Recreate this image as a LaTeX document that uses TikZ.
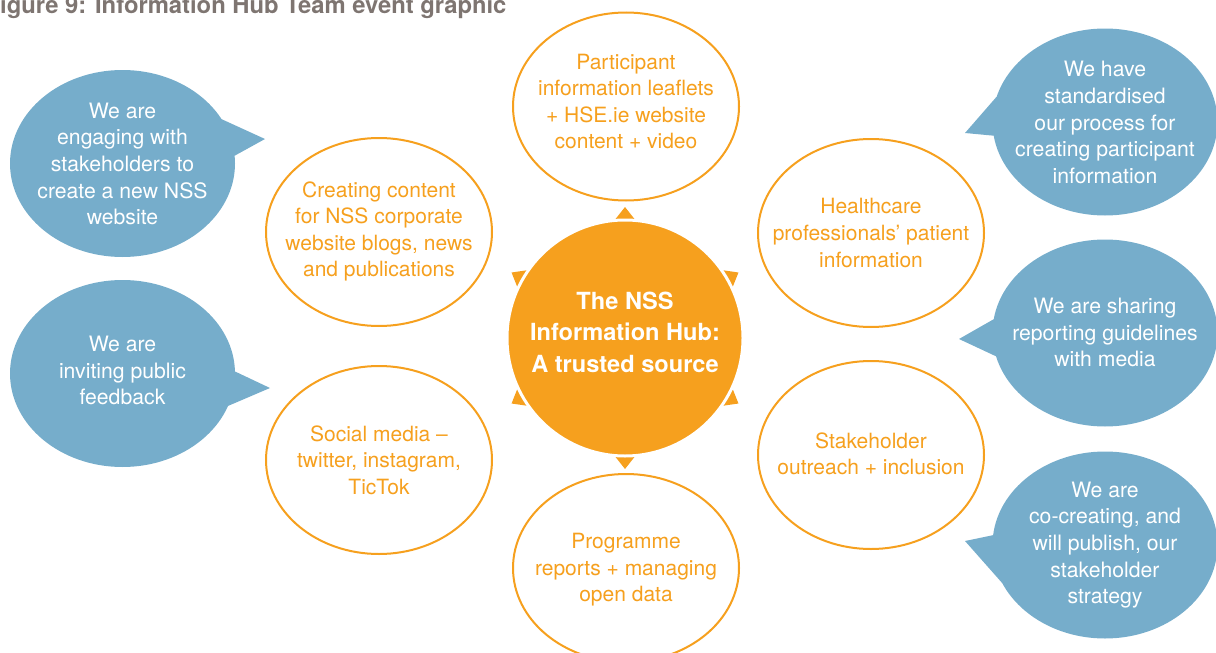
\documentclass[tikz,border=0pt]{standalone}
\usepackage{fontspec}
\setmainfont{TeX Gyre Heros}
\usetikzlibrary{shapes.geometric}
\definecolor{hubOrange}{HTML}{F6A01E}
\definecolor{bubbleBlue}{HTML}{76ADCB}
\definecolor{titleGray}{HTML}{7E7571}

\begin{document}
\begin{tikzpicture}[x=1pt,y=-1pt,
  topic/.style={ellipse, draw=hubOrange, line width=2pt, fill=white,
    minimum width=226pt, minimum height=188pt, inner sep=0pt},
  topictext/.style={text=hubOrange, align=center, inner sep=0pt,
    font=\fontsize{21}{26.6}\selectfont},
  bubble/.style={ellipse, fill=bubbleBlue, minimum width=225pt,
    minimum height=187pt, inner sep=0pt},
  bubbletext/.style={text=white, align=center, inner sep=0pt,
    font=\fontsize{21.2}{26.6}\selectfont},
  pointer/.style={fill=bubbleBlue},
  hub/.style={circle, fill=hubOrange, draw=white, line width=3pt,
    minimum size=236pt, inner sep=0pt},
  hubtext/.style={text=white, align=center, inner sep=0pt,
    font=\bfseries\fontsize{23.6}{31.5}\selectfont},
  marker/.style={fill=hubOrange}
]
\useasboundingbox (0,0) rectangle (1216,653);
\clip (0,0) rectangle (1216,653);

% caption
\node[anchor=base west, text=titleGray, inner sep=0pt,
  font=\bfseries\fontsize{23.8}{28}\selectfont] (title) at (-14.5,13)
  {Figure 9: Information Hub Team event graphic};

% blue speech bubbles with their pointers
\node[bubble] (b1) at (122.5,163.5) {};
\coordinate (p1) at (265,139);
\fill[pointer] (b1.center) -- (b1.24.5) -- (p1) -- (b1.4.3) -- cycle;
\node[bubbletext] (b1t) at (122.5,164)
  {We are\\engaging with\\stakeholders to\\create a new NSS\\website};

\node[bubble] (b2) at (122.5,373.5) {};
\coordinate (p2) at (270,388);
\fill[pointer] (b2.center) -- (b2.1.8) -- (p2) -- (b2.-17.8) -- cycle;
\node[bubbletext] (b2t) at (122.5,370.5)
  {We are\\inviting public\\feedback};

\node[bubble] (b3) at (1105,122) {};
\coordinate (p3) at (965,133);
\fill[pointer] (b3.center) -- (b3.167.7) -- (p3) -- (b3.187.6) -- cycle;
\node[bubbletext] (b3t) at (1105,122.5)
  {We have\\standardised\\our process for\\creating participant\\information};

\node[bubble] (b4) at (1105,333) {};
\coordinate (p4) at (959,339);
\fill[pointer] (b4.center) -- (b4.173.3) -- (p4) -- (b4.192) -- cycle;
\node[bubbletext] (b4t) at (1105,332.5)
  {We are sharing\\reporting guidelines\\with media};

\node[bubble] (b5) at (1105,545) {};
\coordinate (p5) at (965,541);
\fill[pointer] (b5.center) -- (b5.175.9) -- (p5) -- (b5.200.2) -- cycle;
\node[bubbletext] (b5t) at (1105,545)
  {We are\\co-creating, and\\will publish, our\\stakeholder\\strategy};

% orange topic ellipses
\node[topic] (top) at (626,106.5) {};
\node[topictext] (topt) at (626,101.5)
  {Participant\\information leaflets\\+ HSE.ie website\\content + video};

\node[topic] (ul) at (379,232) {};
\node[topictext] (ult) at (379,231.5)
  {Creating content\\for NSS corporate\\website blogs, news\\and publications};

\node[topic] (ur) at (871,233) {};
\node[topictext] (urt) at (871,233)
  {Healthcare\\professionals’ patient\\information};

\node[topic] (ll) at (379,460) {};
\node[topictext] (llt) at (379,460)
  {Social media –\\twitter, instagram,\\TicTok};

\node[topic] (lr) at (871,455) {};
\node[topictext] (lrt) at (871,454)
  {Stakeholder\\outreach + inclusion};

\node[topic] (bot) at (626,568) {};
\node[topictext] (bott) at (626,570)
  {Programme\\reports + managing\\open data};

% central hub with its six pointing markers
\coordinate (hubc) at (625,338);
\foreach \a in {30,90,150,210,270,330}
  \fill[marker, shift={(hubc)}, rotate=\a] (131,0) -- (112,15) -- (112,-15) -- cycle;
\node[hub] (hub) at (hubc) {};
\node[hubtext] (hubt) at (625,332)
  {The NSS\\Information Hub:\\A trusted source};
\end{tikzpicture}
\end{document}
